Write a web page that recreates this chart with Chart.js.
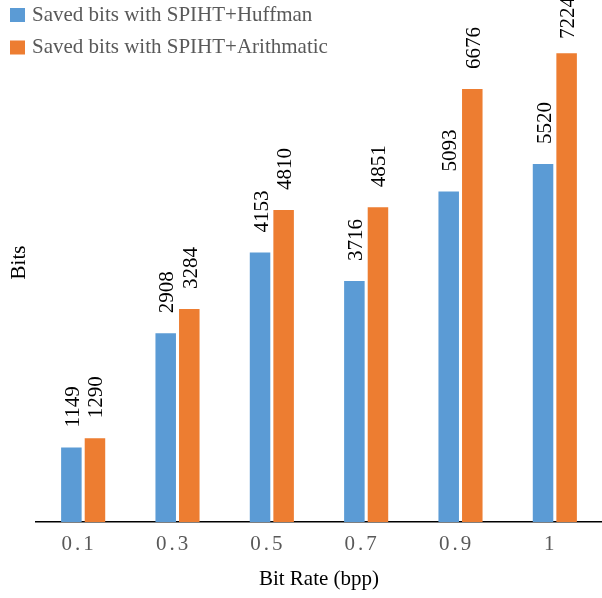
<!DOCTYPE html>
<html>
<head>
<meta charset="utf-8">
<script src="https://cdn.jsdelivr.net/npm/chart.js@4/dist/chart.umd.min.js"></script>
<style>
  body { margin: 0; background: #fff; }
  canvas { display: block; }
</style>
</head>
<body>
<canvas id="chart" width="602" height="598"></canvas>
<script>
// Data
const bitRates = ['0.1', '0.3', '0.5', '0.7', '0.9', '1'];
const huffmanBits = [1149, 2908, 4153, 3716, 5093, 5520];
const arithmeticBits = [1290, 3284, 4810, 4851, 6676, 7224];
const seriesNames = ['Saved bits with SPIHT+Huffman', 'Saved bits with SPIHT+Arithmatic'];
const seriesColors = ['#5B9BD5', '#ED7D31'];

const FONT = '"Liberation Serif", "Times New Roman", serif';

// Rotated value labels above each bar (kept inside the canvas at the top)
const valueLabels = {
    id: 'valueLabels',
    afterDatasetsDraw(chart) {
        const ctx = chart.ctx;
        ctx.save();
        ctx.font = '21px ' + FONT;
        ctx.fillStyle = '#000';
        ctx.textAlign = 'left';
        ctx.textBaseline = 'middle';
        chart.data.datasets.forEach((ds, i) => {
            chart.getDatasetMeta(i).data.forEach((bar, j) => {
                const txt = String(ds.data[j]);
                const w = ctx.measureText(txt).width;
                const y = Math.max(bar.y - 20, w - 3);
                ctx.save();
                ctx.translate(bar.x + 2, y);
                ctx.rotate(-Math.PI / 2);
                ctx.fillText(txt, 0, 0);
                ctx.restore();
            });
        });
        ctx.restore();
    }
};

// Legend drawn over the top-left of the plot
const overlayLegend = {
    id: 'overlayLegend',
    afterDraw(chart) {
        const ctx = chart.ctx;
        ctx.save();
        ctx.font = '21px ' + FONT;
        ctx.textAlign = 'left';
        ctx.textBaseline = 'middle';
        chart.data.datasets.forEach((ds, i) => {
            const y = 15 + i * 32.5;
            ctx.fillStyle = ds.backgroundColor;
            ctx.fillRect(10, y - 7, 15, 14);
            ctx.fillStyle = '#595959';
            ctx.fillText(ds.label, 32, y);
        });
        ctx.restore();
    }
};

// Wider character spacing on the x tick labels
const spacedTicks = {
    id: 'spacedTicks',
    beforeDraw(chart) {
        const sx = chart.scales.x;
        if (sx._spaced) return;
        const orig = sx.drawLabels.bind(sx);
        sx.drawLabels = (area) => {
            chart.ctx.save();
            chart.ctx.letterSpacing = '3px';
            orig(area);
            chart.ctx.restore();
        };
        sx._spaced = true;
    }
};

new Chart(document.getElementById('chart'), {
    type: 'bar',
    data: {
        labels: bitRates,
        datasets: [
            { label: seriesNames[0], data: huffmanBits, backgroundColor: seriesColors[0] },
            { label: seriesNames[1], data: arithmeticBits, backgroundColor: seriesColors[1] }
        ]
    },
    options: {
        responsive: false,
        animation: false,
        layout: { padding: { top: 3, right: 0, bottom: 0, left: 0 } },
        datasets: {
            bar: { categoryPercentage: 0.5, barPercentage: 0.87 }
        },
        plugins: {
            legend: { display: false },
            tooltip: { enabled: false }
        },
        scales: {
            x: {
                grid: { display: false, drawTicks: false },
                border: { display: true, color: '#000', width: 1.5 },
                ticks: { color: '#595959', font: { family: FONT, size: 21 }, padding: 10, labelOffset: -4 },
                title: {
                    display: true,
                    text: 'Bit Rate (bpp)',
                    color: '#000',
                    font: { family: FONT, size: 21 },
                    padding: { top: 0, bottom: 6 }
                },
                afterFit(scale) { scale.height = 76; }
            },
            y: {
                min: 0,
                max: 8000,
                grid: { display: false, drawTicks: false },
                border: { display: false },
                ticks: { display: false },
                title: {
                    display: true,
                    text: 'Bits',
                    color: '#000',
                    font: { family: FONT, size: 21 },
                    padding: { top: 7, bottom: 0 }
                },
                afterFit(scale) { scale.width = 36; }
            }
        }
    },
    plugins: [valueLabels, overlayLegend, spacedTicks]
});
</script>
</body>
</html>
